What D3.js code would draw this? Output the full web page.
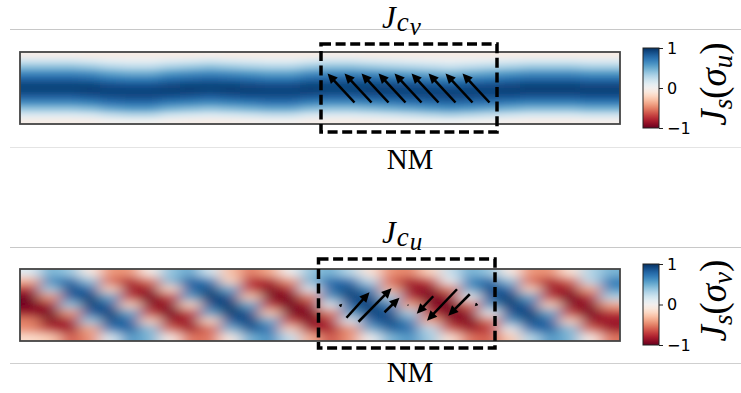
<!DOCTYPE html>
<html><head><meta charset="utf-8">
<script src="https://cdn.jsdelivr.net/npm/d3@7"></script>
<style>body{margin:0;background:#fff}svg{display:block}</style>
</head><body>
<svg id="chart" width="741" height="393"></svg>
<script>
// ---------- DATA ----------
const cellX = [10,30,50,70,90,110,130,150,170,190,210,230,250,270,290,310,330,350,370,390,410,430,450,470,490,510,530,550,570,590];
const jcvRowY = [33,27,21,15,9,3,-3,-9,-15,-21,-27,-33];
const jcvGrid = [
 [-0.04,-0.04,-0.04,-0.06,-0.06,-0.06,-0.06,-0.06,-0.06,-0.04,-0.06,-0.06,-0.06,-0.06,-0.06,-0.04,-0.04,-0.06,-0.06,-0.06,-0.06,-0.06,-0.06,-0.06,-0.06,-0.06,-0.06,-0.06,-0.06,-0.06],
 [0.20,0.20,0.20,0.16,0.11,0.09,0.09,0.14,0.16,0.20,0.16,0.14,0.11,0.11,0.16,0.20,0.20,0.16,0.14,0.11,0.09,0.07,0.09,0.11,0.14,0.16,0.16,0.16,0.14,0.14],
 [0.42,0.42,0.42,0.38,0.31,0.27,0.27,0.34,0.38,0.42,0.38,0.34,0.31,0.31,0.38,0.42,0.42,0.38,0.34,0.31,0.27,0.23,0.27,0.31,0.34,0.38,0.38,0.38,0.34,0.34],
 [0.64,0.64,0.64,0.61,0.53,0.49,0.49,0.57,0.61,0.64,0.61,0.57,0.53,0.53,0.61,0.64,0.64,0.61,0.57,0.53,0.49,0.44,0.49,0.53,0.57,0.61,0.61,0.61,0.57,0.57],
 [0.81,0.81,0.81,0.79,0.72,0.69,0.69,0.76,0.79,0.81,0.79,0.76,0.72,0.72,0.79,0.81,0.81,0.79,0.76,0.72,0.69,0.66,0.69,0.72,0.76,0.79,0.79,0.79,0.76,0.76],
 [0.92,0.92,0.92,0.92,0.88,0.86,0.86,0.90,0.92,0.92,0.92,0.90,0.88,0.88,0.92,0.92,0.92,0.92,0.90,0.88,0.86,0.83,0.86,0.88,0.90,0.92,0.92,0.92,0.90,0.90],
 [0.92,0.92,0.92,0.94,0.93,0.93,0.93,0.94,0.94,0.92,0.94,0.94,0.93,0.93,0.94,0.92,0.92,0.94,0.94,0.93,0.93,0.93,0.93,0.93,0.94,0.94,0.94,0.94,0.94,0.94],
 [0.81,0.81,0.81,0.84,0.87,0.89,0.89,0.86,0.84,0.81,0.84,0.86,0.87,0.87,0.84,0.81,0.81,0.84,0.86,0.87,0.89,0.91,0.89,0.87,0.86,0.84,0.84,0.84,0.86,0.86],
 [0.62,0.62,0.62,0.66,0.73,0.76,0.76,0.69,0.66,0.62,0.66,0.69,0.73,0.73,0.66,0.62,0.62,0.66,0.69,0.73,0.76,0.79,0.76,0.73,0.69,0.66,0.66,0.66,0.69,0.69],
 [0.39,0.39,0.39,0.43,0.51,0.56,0.56,0.47,0.43,0.39,0.43,0.47,0.51,0.51,0.43,0.39,0.39,0.43,0.47,0.51,0.56,0.60,0.56,0.51,0.47,0.43,0.43,0.43,0.47,0.47],
 [0.14,0.14,0.14,0.16,0.24,0.29,0.29,0.20,0.16,0.14,0.16,0.20,0.24,0.24,0.16,0.14,0.14,0.16,0.20,0.24,0.29,0.33,0.29,0.24,0.20,0.16,0.16,0.16,0.20,0.20],
 [-0.05,-0.05,-0.05,-0.04,0.01,0.03,0.03,-0.02,-0.04,-0.05,-0.04,-0.02,0.01,0.01,-0.04,-0.05,-0.05,-0.04,-0.02,0.01,0.03,0.05,0.03,0.01,-0.02,-0.04,-0.04,-0.04,-0.02,-0.02]
];
const jcuRowY = [32,24,16,8,0,-8,-16,-24,-32];
const jcuGrid = [
 [0.12,0.47,0.37,-0.06,-0.44,-0.44,-0.05,0.39,0.51,0.18,-0.29,-0.52,-0.37,0.02,0.38,0.48,0.28,-0.12,-0.45,-0.49,-0.21,0.22,0.48,0.37,-0.06,-0.44,-0.45,-0.13,0.29,0.46],
 [-0.35,0.62,0.78,0.38,-0.55,-0.78,-0.52,0.41,0.81,0.67,-0.19,-0.76,-0.78,-0.41,0.45,0.76,0.73,0.25,-0.57,-0.81,-0.67,0.05,0.67,0.78,0.38,-0.55,-0.78,-0.57,0.25,0.70],
 [-0.76,0.35,0.89,0.76,-0.22,-0.85,-0.85,-0.19,0.78,0.91,0.48,-0.65,-0.93,-0.76,0.11,0.78,0.91,0.62,-0.35,-0.86,-0.91,-0.50,0.52,0.89,0.76,-0.22,-0.85,-0.85,-0.36,0.62],
 [-0.97,-0.41,0.78,0.95,0.50,-0.67,-0.97,-0.67,0.52,0.97,0.85,-0.25,-0.93,-0.95,-0.50,0.55,0.93,0.89,0.31,-0.73,-0.97,-0.85,0.05,0.85,0.95,0.50,-0.67,-0.97,-0.73,0.31],
 [-0.97,-0.81,0.37,0.95,0.81,-0.22,-0.89,-0.89,-0.19,0.85,0.97,0.50,-0.70,-0.97,-0.81,0.11,0.82,0.95,0.67,-0.37,-0.91,-0.97,-0.55,0.57,0.95,0.81,-0.22,-0.89,-0.91,-0.38],
 [-0.85,-0.97,-0.41,0.78,0.95,0.50,-0.67,-0.97,-0.67,0.52,0.97,0.85,-0.25,-0.93,-0.95,-0.50,0.55,0.93,0.89,0.31,-0.73,-0.97,-0.85,0.05,0.85,0.95,0.50,-0.67,-0.97,-0.73],
 [-0.50,-0.93,-0.78,0.35,0.89,0.78,-0.22,-0.85,-0.85,-0.19,0.81,0.93,0.48,-0.65,-0.95,-0.76,0.11,0.78,0.91,0.62,-0.35,-0.86,-0.93,-0.52,0.55,0.91,0.78,-0.22,-0.85,-0.86],
 [-0.48,-0.73,-0.86,-0.37,0.67,0.82,0.41,-0.57,-0.85,-0.57,0.45,0.86,0.73,-0.22,-0.81,-0.82,-0.45,0.48,0.82,0.76,0.25,-0.62,-0.86,-0.73,0.05,0.73,0.82,0.41,-0.57,-0.85],
 [-0.17,-0.25,-0.62,-0.46,0.14,0.59,0.46,-0.07,-0.54,-0.54,-0.06,0.48,0.62,0.23,-0.36,-0.64,-0.45,0.02,0.46,0.60,0.35,-0.14,-0.55,-0.61,-0.25,0.28,0.59,0.46,-0.07,-0.54]
];
// quiver (arrows) inside NM region, pivot at middle
const quiverX = [321,338,355,372,388,405,422,439,456];
const jcvU = [-27,-27,-27,-27,-27,-27,-27,-27,-27];
const jcvV = [29,29,29,29,29,29,29,29,29];
const jcuU = [2.5,23,33,15,1.5,-16.5,-30,-21.5,-2.5];
const jcuV = [2.5,25.5,33.5,14.5,1.5,-17.5,-31.5,-21.5,-2.5];
const cbTicks = [-1,0,1];
const regionLabel = "NM";

// ---------- LAYOUT ----------
const svg = d3.select("#chart");
const color = d3.scaleSequential(d3.interpolateRdBu).domain([-1,1]);
const xScale = d3.scaleLinear().domain([0,600]).range([20,620]);
const defs = svg.append("defs");

const panels = [
  {id:"cv", top:52, grid:jcvGrid, rowY:jcvRowY, rowH:6, U:jcvU, V:jcvV, sub:"v", cbSub:"u",
   box:{x0:301,x1:477,y0:44,y1:-44}, blur:"7 2.8", titleY:27.6, nmY:169, lineTop:29, lineBot:147, lineBotColor:"#e4e4e4",
   cbTop:48, cbBot:128},
  {id:"cu", top:269, grid:jcuGrid, rowY:jcuRowY, rowH:8, U:jcuU, V:jcuV, sub:"u", cbSub:"v",
   box:{x0:298.5,x1:475,y0:46,y1:-43}, blur:"8 4", titleY:243, nmY:382, lineTop:247, lineBot:363, lineBotColor:"#cfcfcf",
   cbTop:264, cbBot:345}
];

panels.forEach(p => {
  const yScale = d3.scaleLinear().domain([-36,36]).range([p.top+72, p.top]);
  // separator lines
  svg.append("line").attr("x1",10).attr("x2",741).attr("y1",p.lineTop+0.5).attr("y2",p.lineTop+0.5)
     .attr("stroke","#c8c8c8").attr("stroke-width",1);
  svg.append("line").attr("x1",10).attr("x2",741).attr("y1",p.lineBot+0.5).attr("y2",p.lineBot+0.5)
     .attr("stroke",p.lineBotColor).attr("stroke-width",1);

  // clip + blur
  defs.append("clipPath").attr("id","clip-"+p.id).append("rect")
    .attr("x",xScale(0)).attr("y",yScale(36)).attr("width",xScale(600)-xScale(0)).attr("height",yScale(-36)-yScale(36));
  defs.append("filter").attr("id","blur-"+p.id).attr("filterUnits","userSpaceOnUse")
    .attr("x",0).attr("y",p.top-40).attr("width",741).attr("height",160)
    .append("feGaussianBlur").attr("stdDeviation",p.blur);

  const cells = [];
  p.grid.forEach((row,j) => row.forEach((v,i) => cells.push({i,j,v})));
  const g = svg.append("g").attr("clip-path",`url(#clip-${p.id})`).append("g").attr("filter",`url(#blur-${p.id})`);
  const nC = cellX.length, nR = p.rowY.length;
  g.selectAll("rect").data(cells).join("rect")
    .attr("x", d => xScale(cellX[d.i]-10) - (d.i===0?25:0))
    .attr("width", d => xScale(cellX[d.i]+10)-xScale(cellX[d.i]-10) + (d.i===0?25:0) + (d.i===nC-1?25:0) + 0.5)
    .attr("y", d => yScale(p.rowY[d.j]+p.rowH/2) - (d.j===0?15:0))
    .attr("height", d => yScale(p.rowY[d.j]-p.rowH/2)-yScale(p.rowY[d.j]+p.rowH/2) + (d.j===0?15:0) + (d.j===nR-1?15:0) + 0.5)
    .attr("fill", d => color(d.v));

  // frame
  svg.append("rect").attr("x",xScale(0)).attr("y",yScale(36)).attr("width",xScale(600)-xScale(0))
    .attr("height",yScale(-36)-yScale(36)).attr("fill","none").attr("stroke","#444").attr("stroke-width",1.8);

  // dashed NM box
  svg.append("rect").attr("x",xScale(p.box.x0)).attr("y",yScale(p.box.y0))
    .attr("width",xScale(p.box.x1)-xScale(p.box.x0)).attr("height",yScale(p.box.y1)-yScale(p.box.y0))
    .attr("fill","none").attr("stroke","#000").attr("stroke-width",3.5).attr("stroke-dasharray","10,4.6");

  // arrows
  const ag = svg.append("g");
  quiverX.forEach((qx,k) => {
    const u = p.U[k], v = p.V[k];
    const tx = xScale(qx - u/2), ty = yScale(0 - v/2);
    const hx = xScale(qx + u/2), hy = yScale(0 + v/2);
    const dx = hx-tx, dy = hy-ty, len = Math.hypot(dx,dy);
    const ux = dx/len, uy = dy/len;
    const hl = Math.min(10, len*0.8), hw = hl*0.47;
    const bx = hx - ux*hl, by = hy - uy*hl;
    if (len > hl+0.5) ag.append("line").attr("x1",tx).attr("y1",ty).attr("x2",bx+ux*1).attr("y2",by+uy*1)
        .attr("stroke","#000").attr("stroke-width",2.5);
    ag.append("path").attr("d",`M${hx},${hy}L${bx-uy*hw},${by+ux*hw}L${bx+uy*hw},${by-ux*hw}Z`).attr("fill","#000");
  });

  // title J_{c_x}
  const t = svg.append("text").attr("x",382).attr("y",p.titleY)
    .attr("font-family","'Liberation Serif', serif").attr("font-style","italic").attr("font-size",31).attr("fill","#000");
  t.append("tspan").text("J");
  t.append("tspan").attr("font-size",27).attr("dy",3).attr("dx",1).text("c");
  t.append("tspan").attr("font-size",25).attr("dy",4).attr("dx",1).text(p.sub);

  // NM label
  svg.append("text").attr("x",410).attr("y",p.nmY).attr("text-anchor","middle")
    .attr("font-family","'Liberation Serif', serif").attr("font-size",29).attr("fill","#000").text(regionLabel);

  // colorbar
  const gid = "grad-"+p.id;
  const grad = defs.append("linearGradient").attr("id",gid).attr("x1",0).attr("x2",0).attr("y1",0).attr("y2",1);
  d3.range(0,1.0001,0.05).forEach(o => grad.append("stop").attr("offset",o).attr("stop-color",color(1-2*o)));
  const cbScale = d3.scaleLinear().domain([-1,1]).range([p.cbBot,p.cbTop]);
  svg.append("rect").attr("x",643).attr("y",p.cbTop).attr("width",16).attr("height",p.cbBot-p.cbTop)
    .attr("fill",`url(#${gid})`).attr("stroke","#222").attr("stroke-width",1);
  const ax = svg.append("g").attr("transform","translate(659,0)")
    .call(d3.axisRight(cbScale).tickValues(cbTicks).tickSize(4).tickPadding(4).tickFormat(d3.format("d")));
  ax.select(".domain").remove();
  ax.selectAll("text").attr("font-family","'DejaVu Sans', sans-serif").attr("font-size",16).attr("fill","#000");
  ax.selectAll("line").attr("stroke","#222");

  // colorbar label J_s(σ_x)
  const cl = svg.append("text").attr("transform",`translate(726,${(p.cbTop+p.cbBot)/2-4}) rotate(-90)`)
    .attr("text-anchor","middle").attr("font-family","'Liberation Serif', serif").attr("font-size",37).attr("fill","#000");
  cl.append("tspan").attr("font-style","italic").text("J");
  cl.append("tspan").attr("font-style","italic").attr("font-size",27).attr("dy",6).text("s");
  cl.append("tspan").attr("dy",-6).text("(");
  cl.append("tspan").attr("font-style","italic").text("σ");
  cl.append("tspan").attr("font-style","italic").attr("font-size",27).attr("dy",6).text(p.cbSub);
  cl.append("tspan").attr("dy",-6).text(")");
});
</script>
</body></html>
